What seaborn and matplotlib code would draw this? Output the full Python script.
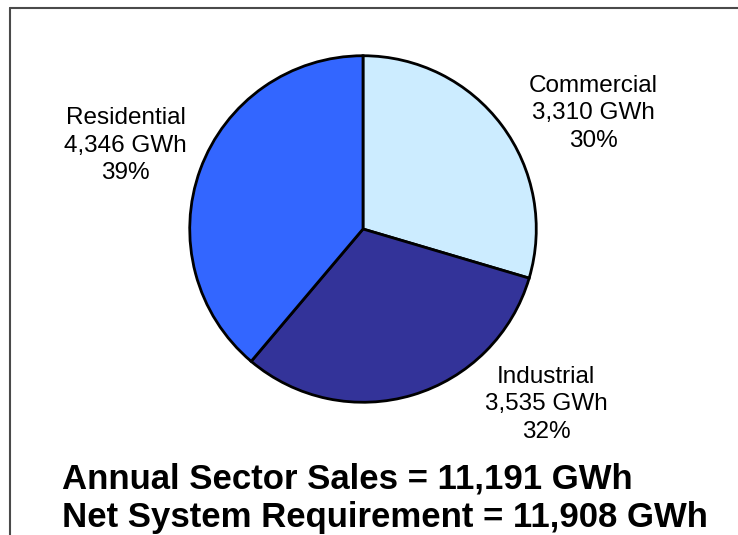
import matplotlib
matplotlib.use("Agg")
import matplotlib.pyplot as plt
import seaborn as sns
from matplotlib.lines import Line2D

# Sector sales (GWh)
sectors = ["Commercial", "Industrial", "Residential"]
sales_gwh = [3310, 3535, 4346]
colors = ["#CCECFF", "#333399", "#3366FF"]
total_sales = 11191
net_requirement = 11908

sns.set_theme(style="white")
plt.rcParams["font.family"] = ["Liberation Sans", "DejaVu Sans"]

fig = plt.figure(figsize=(7.38, 5.35), dpi=100)
fig.patch.set_facecolor("white")

# square axes holding the pie
cx, cy, r = 363 / 738, 1 - 229 / 535, 175
w, h = 2 * r / 738, 2 * r / 535
ax = fig.add_axes([cx - w / 2, cy - h / 2, w, h])

wedges, _ = ax.pie(
    sales_gwh,
    colors=colors,
    startangle=90,
    counterclock=False,
    radius=1.0,
    wedgeprops=dict(edgecolor="black", linewidth=2.0),
)
ax.set_xlim(-1.01, 1.01)
ax.set_ylim(-1.01, 1.01)
ax.set_aspect("equal")
ax.axis("off")

label_pos = {
    "Commercial": (1.331, 0.669),
    "Industrial": (1.057, -1.011),
    "Residential": (-1.371, 0.48),
}
for name, val in zip(sectors, sales_gwh):
    pct = round(100 * val / sum(sales_gwh))
    x, y = label_pos[name]
    ax.text(x, y, f"{name}\n{val:,} GWh\n{pct}%", ha="center", va="center",
            fontsize=17.5, color="black", linespacing=1.32, clip_on=False)

fig.text(62 / 738, 1 - 489 / 535, f"Annual Sector Sales = {total_sales:,} GWh",
         ha="left", va="baseline", fontsize=25, fontweight="bold", color="black")
fig.text(62 / 738, 1 - 527 / 535, f"Net System Requirement = {net_requirement:,} GWh",
         ha="left", va="baseline", fontsize=25, fontweight="bold", color="black")

# frame lines along the top and left edges
fig.add_artist(Line2D([9.5 / 738, 1.0], [1 - 7.5 / 535, 1 - 7.5 / 535],
                      transform=fig.transFigure, color="#4a4a4a", linewidth=1.5))
fig.add_artist(Line2D([9.5 / 738, 9.5 / 738], [0.0, 1 - 7.5 / 535],
                      transform=fig.transFigure, color="#4a4a4a", linewidth=1.5))

fig.savefig("out.png", dpi=100, facecolor="white")
